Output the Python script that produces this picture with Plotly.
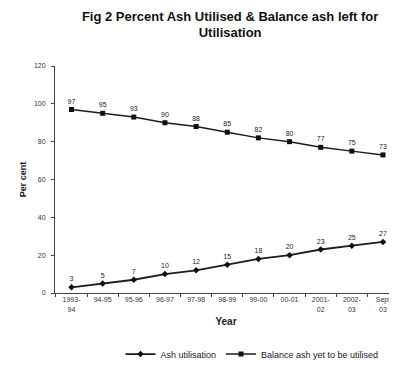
import plotly.graph_objects as go

years = ["1993-<br>94", "94-95", "95-96", "96-97", "97-98", "98-99", "99-00",
         "00-01", "2001-<br>02", "2002-<br>03", "Sept<br>03"]
ash_utilisation = [3, 5, 7, 10, 12, 15, 18, 20, 23, 25, 27]
balance_ash = [97, 95, 93, 90, 88, 85, 82, 80, 77, 75, 73]

font_family = "Liberation Sans, Arial, sans-serif"
line_col = "#1c1a26"

fig = go.Figure()
fig.add_trace(go.Scatter(
    x=years, y=ash_utilisation, name="Ash utilisation",
    mode="lines+markers+text", text=[str(v) for v in ash_utilisation],
    textposition="top center", textfont=dict(size=7, color="#222"),
    line=dict(color=line_col, width=1.8),
    marker=dict(symbol="diamond", size=5, color="#111"),
    cliponaxis=False,
))
fig.add_trace(go.Scatter(
    x=years, y=balance_ash, name="Balance ash yet to be utilised",
    mode="lines+markers+text", text=[str(v) for v in balance_ash],
    textposition="top center", textfont=dict(size=7, color="#222"),
    line=dict(color=line_col, width=1.5),
    marker=dict(symbol="square", size=5, color="#111"),
    cliponaxis=False,
))

fig.update_layout(
    width=389, height=358,
    margin=dict(l=47, r=0, t=58, b=73, autoexpand=False),
    paper_bgcolor="white", plot_bgcolor="white",
    font=dict(family=font_family, color="#222"),
    title=dict(
        text="<b>Fig 2 Percent Ash Utilised & Balance ash left for<br>Utilisation</b>",
        x=0.571, xanchor="center", yref="container", y=0.965, yanchor="middle",
        font=dict(size=13, color="#111"),
    ),
    xaxis=dict(
        type="category", range=[-0.53, 10.45], automargin=False,
        showline=True, linecolor="#444", linewidth=1,
        ticks="outside", ticklen=3, tickcolor="#444", tickson="boundaries",
        showgrid=False, zeroline=False,
        tickfont=dict(size=7, color="#333"), tickangle=0,
        title=dict(text="<b>Year</b>", font=dict(size=10, color="#222"), standoff=6),
    ),
    yaxis=dict(
        range=[0, 120], tickvals=[0, 20, 40, 60, 80, 100, 120], automargin=False,
        showline=True, linecolor="#444", linewidth=1,
        ticks="outside", ticklen=3, tickcolor="#444", ticklabelstandoff=4,
        showgrid=False, zeroline=False,
        tickfont=dict(size=7, color="#333"),
        title=dict(text="<b>Per cent</b>", font=dict(size=9, color="#222"), standoff=5),
    ),
    legend=dict(
        orientation="h", x=0.576, xanchor="center", y=-0.205, yanchor="top",
        font=dict(size=9, color="#222"),
        bgcolor="rgba(0,0,0,0)",
    ),
    showlegend=True,
)

fig.write_html("out.html")
